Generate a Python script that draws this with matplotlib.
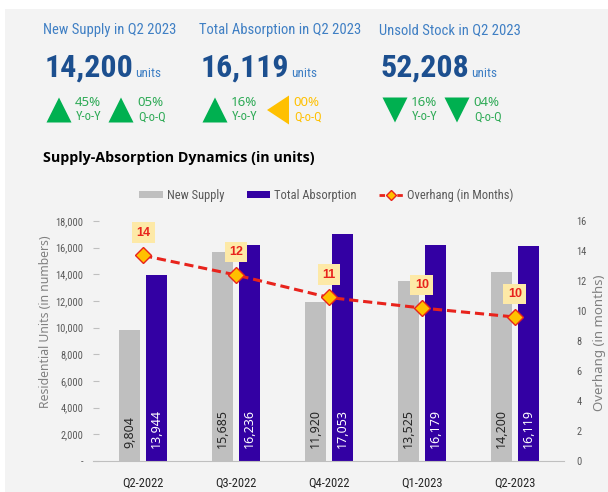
# -*- coding: utf-8 -*-
import matplotlib
matplotlib.use('Agg')
import matplotlib.pyplot as plt
from matplotlib.patches import Rectangle, Polygon, Patch
from matplotlib.lines import Line2D
import numpy as np

quarters = ['Q2-2022', 'Q3-2022', 'Q4-2022', 'Q1-2023', 'Q2-2023']
newSupply = [9804, 15685, 11920, 13525, 14200]
totalAbsorption = [13944, 16236, 17053, 16179, 16119]
overhang = [13.7, 12.4, 10.9, 10.2, 9.6]

kpiTitles = ['New Supply in Q2 2023', 'Total Absorption in Q2 2023', 'Unsold Stock in Q2 2023']
kpiValues = ['14,200', '16,119', '52,208']
kpiYoY = ['45%', '16%', '16%']
kpiQoQ = ['05%', '00%', '04%']
kpiYoYDir = ['up', 'up', 'down']
kpiQoQDir = ['up', 'flat', 'down']

W, H = 608, 492
COND = ['Roboto Condensed', 'DejaVu Sans']
SANS = ['Noto Sans', 'DejaVu Sans']

GREY = '#bfbfbf'
PURPLE = '#3300a3'
RED = '#e8231c'
GREEN = '#00b050'
YELLOW = '#ffc000'


def fx(x):
    return x / W


def fy(y):
    return 1 - y / H


fig = plt.figure(figsize=(W / 100, H / 100), dpi=100)
fig.patch.set_facecolor('white')
fig.patches.append(Rectangle((fx(5), 0), 1 - fx(5), fy(9), transform=fig.transFigure,
                             facecolor='#f3f3f3', edgecolor='none', zorder=-10))
renderer = fig.canvas.get_renderer()


def triangle(cx, cy, w, h, kind, color):
    if kind == 'up':
        pts = [(cx - w / 2, cy + h / 2), (cx + w / 2, cy + h / 2), (cx, cy - h / 2)]
    elif kind == 'down':
        pts = [(cx - w / 2, cy - h / 2), (cx + w / 2, cy - h / 2), (cx, cy + h / 2)]
    else:
        pts = [(cx - w / 2, cy), (cx + w / 2, cy - h / 2), (cx + w / 2, cy + h / 2)]
    fig.patches.append(Polygon([(fx(a), fy(b)) for a, b in pts], closed=True,
                               transform=fig.transFigure, facecolor=color, edgecolor='none'))


# KPI header
kpiX = [43, 199, 379]
for i in range(3):
    x0 = kpiX[i]
    fig.text(fx(x0), fy(30), kpiTitles[i], family=COND, fontsize=10.5, color='#3f7fc4',
             va='center', ha='left')
    t = fig.text(fx(x0 + 2), fy(77), kpiValues[i], family=COND, fontsize=23, fontweight='bold',
                 color='#1c4f8f', va='baseline', ha='left')
    bb = t.get_window_extent(renderer)
    fig.text(bb.x1 / W + fx(1.5), fy(77), 'units', family=COND, fontsize=9.5, color='#3f7fc4',
             va='baseline', ha='left')
    for j, (pct, lab, kind) in enumerate([(kpiYoY[i], 'Y-o-Y', kpiYoYDir[i]),
                                          (kpiQoQ[i], 'Q-o-Q', kpiQoQDir[i])]):
        tx = x0 + 16 + j * 62
        col = YELLOW if kind == 'flat' else GREEN
        tcol = YELLOW if kind == 'flat' else '#2eaa56'
        if kind == 'flat':
            triangle(tx + 1, 110, 22, 29, kind, col)
        else:
            triangle(tx, 110, 25, 25, kind, col)
        fig.text(fx(tx + 16), fy(102), pct, family=SANS, fontsize=9.5, color=tcol,
                 va='center', ha='left')
        fig.text(fx(tx + 17), fy(117), lab, family=COND, fontsize=9, color=tcol,
                 va='center', ha='left')

fig.text(fx(43), fy(158), 'Supply-Absorption Dynamics (in units)',
         family=['Open Sans', 'DejaVu Sans'], fontsize=10.3, fontweight='bold', color='black',
         va='center', ha='left')

# chart
ax = fig.add_axes([fx(93), fy(461), fx(564) - fx(93), fy(221) - fy(461)])
ax.set_facecolor('none')
ax2 = ax.twinx()

x = np.arange(len(quarters))
barW = 0.225
off = 0.145
ax.bar(x - off, newSupply, barW, color=GREY, zorder=2)
ax.bar(x + off, totalAbsorption, barW, color=PURPLE, zorder=2)

for xi, v in zip(x, newSupply):
    ax.text(xi - off, 1000, '{:,}'.format(v), rotation=90, ha='center', va='bottom',
            family=SANS, fontsize=9, color='#262626', zorder=3)
for xi, v in zip(x, totalAbsorption):
    ax.text(xi + off, 1000, '{:,}'.format(v), rotation=90, ha='center', va='bottom',
            family=SANS, fontsize=9, color='white', zorder=3)

ax.set_xlim(-0.54, 4.53)
ax.set_ylim(0, 18000)
ax.set_yticks(np.arange(0, 18001, 2000))
ax.set_yticklabels(['-'] + ['{:,}'.format(v) for v in range(2000, 18001, 2000)])
ax.set_xticks(x)
ax.set_xticklabels(quarters)
ax.tick_params(axis='x', length=0, pad=11, labelsize=9, labelcolor='#262626')
ax.tick_params(axis='y', direction='in', length=4, color='#bfbfbf', pad=7,
               labelsize=7.5, labelcolor='#595959')
for lab in ax.get_xticklabels() + ax.get_yticklabels():
    lab.set_family(COND)
for s in ['top', 'left', 'right']:
    ax.spines[s].set_visible(False)
ax.spines['bottom'].set_color('#bfbfbf')
ax.spines['bottom'].set_zorder(5)

ax2.plot(x, overhang, '--', color=RED, lw=2.2, dashes=(3, 1.6), zorder=4,
         marker='D', markersize=8, markerfacecolor=YELLOW, markeredgecolor=RED,
         markeredgewidth=1)
for xi, v in zip(x, overhang):
    ax2.annotate('{:d}'.format(int(round(v))), (xi, v), xytext=(0, 16.5),
                 textcoords='offset points', ha='center', va='center',
                 family=['Liberation Sans', 'DejaVu Sans'], fontsize=9, fontweight='bold',
                 color=RED,
                 bbox=dict(boxstyle='square,pad=0.35', facecolor='#fde9a7', edgecolor='none'))
ax2.set_ylim(0, 16)
ax2.set_yticks(np.arange(0, 17, 2))
ax2.tick_params(axis='y', length=0, pad=9, labelsize=7.5, labelcolor='#595959')
for lab in ax2.get_yticklabels():
    lab.set_family(COND)
for s in ax2.spines.values():
    s.set_visible(False)

fig.text(fx(46), fy(322), 'Residential Units (in numbers)', rotation=90, family=SANS,
         fontsize=8.8, color='#808080', ha='center', va='center')
fig.text(fx(599), fy(343), 'Overhang (in months)', rotation=90, family=SANS,
         fontsize=9.5, color='#808080', ha='center', va='center')

handles = [Patch(facecolor=GREY, edgecolor='none'),
           Patch(facecolor=PURPLE, edgecolor='none'),
           Line2D([], [], color=RED, ls='--', lw=2, dashes=(2, 1.2), marker='D', markersize=5,
                  markerfacecolor=YELLOW, markeredgecolor=RED)]
leg = fig.legend(handles, ['New Supply', 'Total Absorption', 'Overhang (in Months)'],
                 loc='center', bbox_to_anchor=(fx(326), fy(195)), ncol=3, frameon=False,
                 prop={'family': COND, 'size': 9}, handlelength=1.9, handleheight=0.5,
                 handletextpad=0.3, columnspacing=1.8)
for t in leg.get_texts():
    t.set_color('#595959')

fig.savefig('out.png', dpi=100, facecolor=fig.get_facecolor())
